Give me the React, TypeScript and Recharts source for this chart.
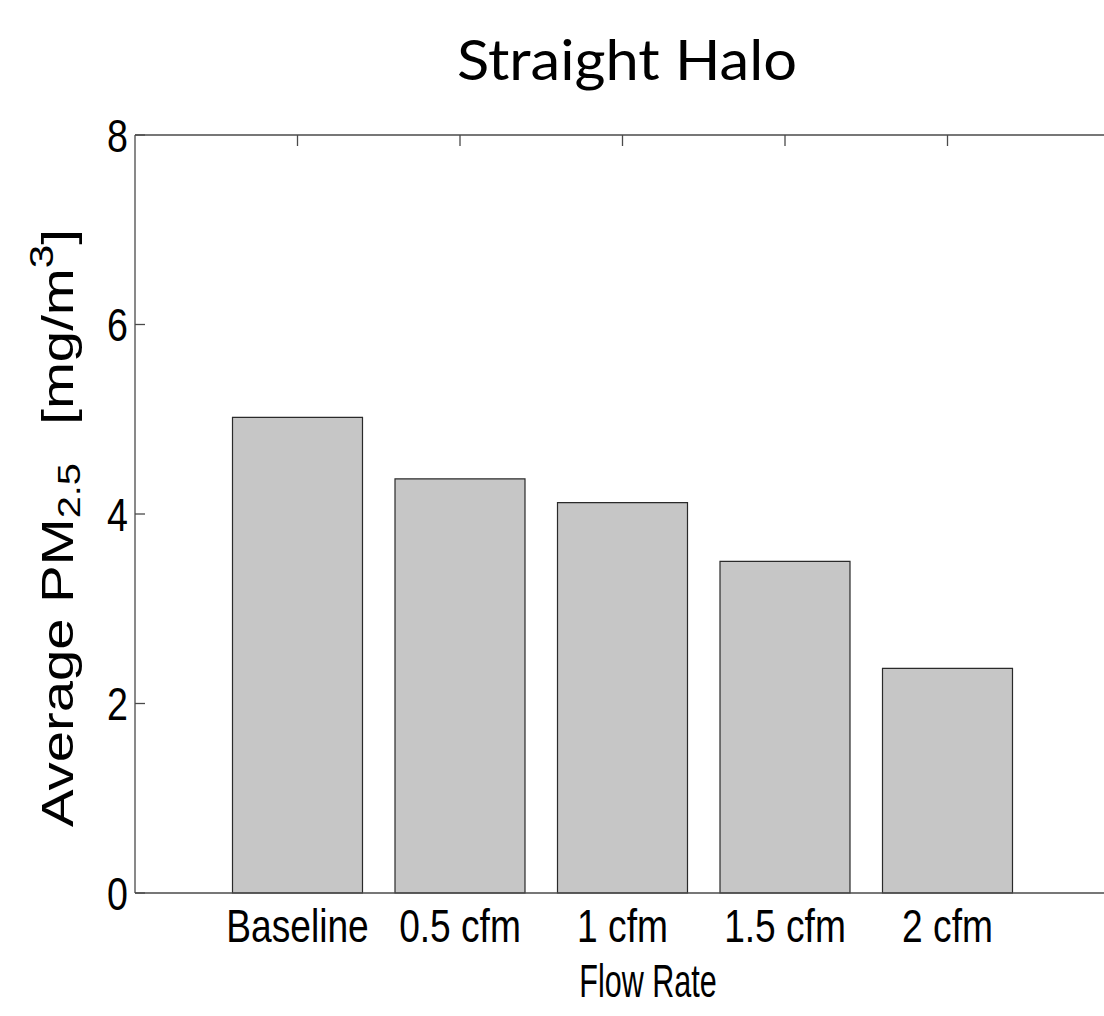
import React from "react";
import { BarChart, Bar, XAxis, YAxis } from "recharts";

const categories = ["Baseline", "0.5 cfm", "1 cfm", "1.5 cfm", "2 cfm"];
const pm25 = [5.02, 4.37, 4.12, 3.5, 2.37];
const yTicks = [0, 2, 4, 6, 8];

const data = categories.map((flow, i) => ({ flow, pm: pm25[i] }));

const FONT = "'Liberation Sans', Arial, Helvetica, sans-serif";
const AXIS = { stroke: "#4a4a4a", strokeWidth: 1.3 };
const TICK_LEN = 10;

const XTick = ({ x, y, payload }: any) => (
  <text
    transform={`translate(${x},${y + 49}) scale(0.79,1)`}
    textAnchor="middle"
    fontFamily={FONT}
    fontSize={47}
    fill="#000"
  >
    {payload.value}
  </text>
);

// left axis: inward tick mark + label
const YTick = ({ x, y, payload }: any) => (
  <g>
    <line x1={x} x2={x + TICK_LEN} y1={y} y2={y} {...AXIS} />
    <text
      transform={`translate(${x - 7},${y}) scale(0.8,1)`}
      textAnchor="end"
      dy="0.36em"
      fontFamily={FONT}
      fontSize={47}
      fill="#000"
    >
      {payload.value}
    </text>
  </g>
);

// mirrored axes: inward marks only
const RightTick = ({ x, y }: any) => (
  <line x1={x} x2={x - TICK_LEN} y1={y} y2={y} {...AXIS} />
);
const TopTick = ({ x, y }: any) => (
  <line x1={x} x2={x} y1={y} y2={y + TICK_LEN + 1} {...AXIS} />
);

const YLabel = () => (
  <text
    transform="translate(73,827) rotate(-90) scale(1.28,1)"
    fontFamily={FONT}
    fontSize={44}
    fill="#000"
  >
    Average PM
    <tspan fontSize={31} dy={7}>2.5</tspan>
    <tspan dx={30} dy={-7}>[mg/m</tspan>
    <tspan fontSize={33} dy={-20}>3</tspan>
    <tspan dy={20}>]</tspan>
  </text>
);

const XLabel = () => (
  <text
    transform="translate(648,997) scale(0.65,1)"
    textAnchor="middle"
    fontFamily={FONT}
    fontSize={47}
    fill="#000"
  >
    Flow Rate
  </text>
);

export default function App() {
  return (
    <div
      style={{
        position: "absolute",
        left: 0,
        top: 0,
        width: 1104,
        height: 1016,
        overflow: "hidden",
        background: "#fff",
      }}
    >
      <BarChart
        width={1120}
        height={1016}
        data={data}
        margin={{ top: 134, left: 134, right: 9, bottom: 122 }}
        barCategoryGap="10%"
      >
        <XAxis
          dataKey="flow"
          height={1}
          padding={{ left: 81.25, right: 81.25 }}
          axisLine={AXIS}
          tickLine={false}
          tickSize={0}
          tickMargin={0}
          tick={<XTick />}
          interval={0}
          label={<XLabel />}
        />
        <XAxis
          xAxisId="top"
          dataKey="flow"
          orientation="top"
          height={1}
          padding={{ left: 81.25, right: 81.25 }}
          axisLine={AXIS}
          tickLine={false}
          tickSize={0}
          tickMargin={0}
          tick={<TopTick />}
          interval={0}
        />
        <YAxis
          width={1}
          domain={[0, 8]}
          ticks={yTicks}
          axisLine={AXIS}
          tickLine={false}
          tickSize={0}
          tickMargin={0}
          tick={<YTick />}
          label={<YLabel />}
        />
        <YAxis
          yAxisId="right"
          orientation="right"
          width={1}
          domain={[0, 8]}
          ticks={yTicks}
          axisLine={AXIS}
          tickLine={false}
          tickSize={0}
          tickMargin={0}
          tick={<RightTick />}
        />
        <Bar
          dataKey="pm"
          fill="#c6c6c6"
          stroke="#2a2a2a"
          strokeWidth={1.2}
          isAnimationActive={false}
        />
      </BarChart>
      <svg
        width={1104}
        height={1016}
        style={{ position: "absolute", left: 0, top: 0, pointerEvents: "none" }}
      >
        <text
          x={457}
          y={80}
          textLength={340}
          lengthAdjust="spacingAndGlyphs"
          fontFamily="Lato, 'Open Sans', sans-serif"
          fontSize={56}
          fill="#000"
        >
          Straight Halo
        </text>
      </svg>
    </div>
  );
}
